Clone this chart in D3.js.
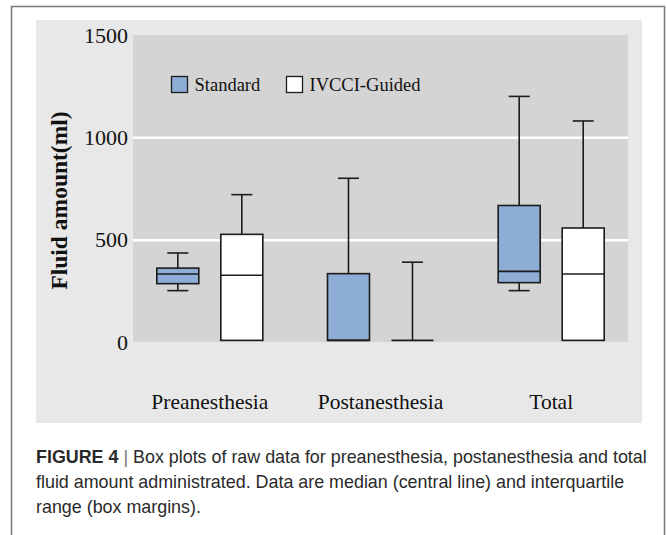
<!DOCTYPE html>
<html>
<head>
<meta charset="utf-8">
<script src="https://cdn.jsdelivr.net/npm/d3@7"></script>
<style>
  html, body { margin: 0; padding: 0; background: #fff; }
  svg { display: block; }
</style>
</head>
<body>
<div id="chart"></div>
<script>
// categories + series
const categories = ["Preanesthesia", "Postanesthesia", "Total"];
const series = ["Standard", "IVCCI-Guided"];
const yTicks = [0, 500, 1000, 1500];

// five number summaries (min, q1, median, q3, max)
const standardMin = [251, 8, 251];
const standardQ1 = [285, 8, 290];
const standardMedian = [332, 8, 345];
const standardQ3 = [361, 334, 667];
const standardMax = [435, 800, 1200];

const ivcciMin = [8, 8, 8];
const ivcciQ1 = [8, 8, 8];
const ivcciMedian = [326, 8, 332];
const ivcciQ3 = [526, 8, 557];
const ivcciMax = [720, 390, 1080];

const captionLines = [
  [{ t: "FIGURE 4", b: true }, { t: " | ", sep: true }, { t: "Box plots of raw data for preanesthesia, postanesthesia and total" }],
  [{ t: "fluid amount administrated. Data are median (central line) and interquartile" }],
  [{ t: "range (box margins)." }],
];

const width = 667;
const height = 535;

//build one record per box
const boxes = [];
categories.forEach((c, i) => {
  boxes.push({ cat: c, s: series[0], min: standardMin[i], q1: standardQ1[i], med: standardMedian[i], q3: standardQ3[i], max: standardMax[i] });
  boxes.push({ cat: c, s: series[1], min: ivcciMin[i], q1: ivcciQ1[i], med: ivcciMedian[i], q3: ivcciQ3[i], max: ivcciMax[i] });
});

const fills = { "Standard": "#8dadd6", "IVCCI-Guided": "#ffffff" };

const svg = d3.select("#chart")
  .append("svg")
  .attr("width", width)
  .attr("height", height);

//outer figure frame (open at the bottom, runs off the page)
svg.append("rect")
  .attr("x", 11.5).attr("y", 6.5)
  .attr("width", 653).attr("height", 560)
  .attr("fill", "none")
  .attr("stroke", "#777")
  .attr("stroke-width", 1.5);

//light chart panel
const panel = { left: 36, top: 20, right: 642, bottom: 423 };
svg.append("rect")
  .attr("x", panel.left).attr("y", panel.top)
  .attr("width", panel.right - panel.left)
  .attr("height", panel.bottom - panel.top)
  .attr("fill", "#e8e8e8");

const plot = { left: 133, top: 35, right: 628, bottom: 342 };

const yScale = d3.scaleLinear().domain([0, 1500]).range([plot.bottom, plot.top]);
const xScale = d3.scalePoint().domain(categories).range([plot.left, plot.right]).padding(0.45);
const sScale = d3.scaleBand().domain(series).range([-53, 53]).paddingInner(0.344);
const bw = sScale.bandwidth();

//plot area
svg.append("rect")
  .attr("x", plot.left).attr("y", plot.top)
  .attr("width", plot.right - plot.left)
  .attr("height", plot.bottom - plot.top)
  .attr("fill", "#d4d4d4");

//gridlines (white)
svg.append("g")
  .attr("transform", `translate(${plot.left},0)`)
  .call(d3.axisLeft(yScale).tickValues(yTicks.filter((d) => d > 0 && d < 1500)).tickSize(-(plot.right - plot.left)).tickFormat(""))
  .call((g) => g.select(".domain").remove())
  .call((g) => g.selectAll("line").attr("stroke", "#fff").attr("stroke-width", 2.5));

//y axis labels
svg.append("g")
  .attr("transform", `translate(${plot.left},0)`)
  .call(d3.axisLeft(yScale).tickValues(yTicks).tickSize(0).tickPadding(5).tickFormat(d3.format("d")))
  .call((g) => g.select(".domain").remove())
  .call((g) => g.selectAll("text")
    .attr("font-family", "'Liberation Serif', 'Times New Roman', serif")
    .attr("font-size", 22)
    .attr("fill", "#111"));

//y title
svg.append("text")
  .attr("transform", `translate(67, ${(plot.top + plot.bottom) / 2 + 12}) rotate(-90)`)
  .attr("text-anchor", "middle")
  .attr("font-family", "'Liberation Serif', 'Times New Roman', serif")
  .attr("font-weight", "bold")
  .attr("font-size", 23.5)
  .attr("fill", "#111")
  .text("Fluid amount(ml)");

//category labels
svg.append("g")
  .selectAll("text")
  .data(categories)
  .enter()
  .append("text")
    .attr("x", (d) => xScale(d))
    .attr("y", 409)
    .attr("text-anchor", "middle")
    .attr("font-family", "'Liberation Serif', 'Times New Roman', serif")
    .attr("font-size", 21.5)
    .attr("fill", "#111")
    .text((d) => d);

//boxes
const cx = (d) => xScale(d.cat) + sScale(d.s) + bw / 2;
const g = svg.append("g").selectAll("g").data(boxes).enter().append("g");
const stroke = "#1c1c1c";

//whisker stems
g.append("line")
  .attr("x1", cx).attr("x2", cx)
  .attr("y1", (d) => yScale(d.q3)).attr("y2", (d) => yScale(d.max))
  .attr("stroke", stroke).attr("stroke-width", 1.6);
g.append("line")
  .attr("x1", cx).attr("x2", cx)
  .attr("y1", (d) => yScale(d.q1)).attr("y2", (d) => yScale(d.min))
  .attr("stroke", stroke).attr("stroke-width", 1.6);
//caps
g.append("line")
  .attr("x1", (d) => cx(d) - bw / 4).attr("x2", (d) => cx(d) + bw / 4)
  .attr("y1", (d) => yScale(d.max)).attr("y2", (d) => yScale(d.max))
  .attr("stroke", stroke).attr("stroke-width", 1.6);
g.filter((d) => d.min < d.q1)
  .append("line")
  .attr("x1", (d) => cx(d) - bw / 4).attr("x2", (d) => cx(d) + bw / 4)
  .attr("y1", (d) => yScale(d.min)).attr("y2", (d) => yScale(d.min))
  .attr("stroke", stroke).attr("stroke-width", 1.6);
//box
g.append("rect")
  .attr("x", (d) => cx(d) - bw / 2)
  .attr("width", bw)
  .attr("y", (d) => yScale(d.q3))
  .attr("height", (d) => yScale(d.q1) - yScale(d.q3))
  .attr("fill", (d) => fills[d.s])
  .attr("stroke", stroke)
  .attr("stroke-width", 1.6);
//median
g.append("line")
  .attr("x1", (d) => cx(d) - bw / 2).attr("x2", (d) => cx(d) + bw / 2)
  .attr("y1", (d) => yScale(d.med)).attr("y2", (d) => yScale(d.med))
  .attr("stroke", stroke).attr("stroke-width", 1.6);

//legend
const legendX = [171, 286];
const legend = svg.append("g")
  .selectAll("g")
  .data(series)
  .enter()
  .append("g")
  .attr("transform", (d, i) => `translate(${legendX[i]}, 76)`);
legend.append("rect")
  .attr("x", 0.5).attr("y", 0.5)
  .attr("width", 16).attr("height", 16)
  .attr("fill", (d) => fills[d])
  .attr("stroke", stroke)
  .attr("stroke-width", 1.3);
legend.append("text")
  .attr("x", 23.5)
  .attr("y", 9)
  .attr("dy", "0.35em")
  .attr("font-family", "'Liberation Serif', 'Times New Roman', serif")
  .attr("font-size", 18.5)
  .attr("fill", "#111")
  .text((d) => d);

//caption - condensed sans, squeeze it horizontally so line 1 spans the panel
const capX = 36;
const cap = svg.append("g")
  .attr("font-family", "'Liberation Sans', Arial, sans-serif")
  .attr("font-size", 18.6)
  .attr("fill", "#2a2a2a");
const capTexts = [];
captionLines.forEach((line, i) => {
  const t = cap.append("text")
    .attr("x", 0)
    .attr("y", 463 + i * 25);
  line.forEach((p) => {
    t.append("tspan")
      .attr("font-weight", p.b ? "bold" : null)
      .attr("fill", p.sep ? "#777" : null)
      .style("white-space", "pre")
      .text(p.t);
  });
  capTexts.push(t);
});
const firstW = capTexts[0].node().getComputedTextLength();
const sx = 611 / firstW;
cap.attr("transform", `translate(${capX},0) scale(${sx},1)`);
</script>
</body>
</html>
